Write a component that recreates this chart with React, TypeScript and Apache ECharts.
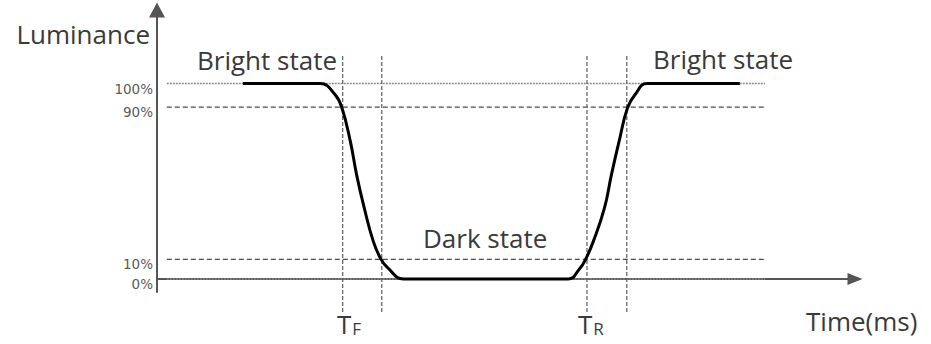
import React, { useEffect, useRef } from "react";
import * as echarts from "echarts";

// Luminance response curve (time in arbitrary units, luminance in %)
const curveTime = [12.3, 23.4, 25.5, 26.5, 27.7, 28.6, 29.7, 31.0, 32.1, 33.1, 35.3, 58.9, 60.6, 61.4, 62.5, 64.1, 65.1, 66.2, 67.4, 68.5, 70.2, 83.5];
const curveLum = [100, 100, 94.4, 87.5, 70.4, 53.3, 36.2, 19.1, 10, 5.5, 0, 0, 5.5, 10, 19.1, 36.2, 53.3, 70.4, 87.5, 94.4, 100, 100];

// Horizontal reference levels and their tick labels
const levelValues = [100, 88, 10, 0];
const levelLabels = ["100%", "90%", "10%", "0%"];
const levelDotted = [true, false, false, true];
const levelSpan = [1.4, 87.1];

// Vertical reference times
const guideTimes = [26.6, 32.2, 61.6, 67.3];
const guideSpan = [-16.9, 114.9];

const stateLabels = ["Bright state", "Dark state", "Bright state"];
const timeMarks = [
  ["T", "F"],
  ["T", "R"],
];
const axisNames = ["Time(ms)", "Luminance"];

const FONT = "'Open Sans', sans-serif";
const TEXT = "#3a3a3a";

export default function App() {
  const ref = useRef<HTMLDivElement>(null);
  useEffect(() => {
    document.body.style.margin = "0";
    const chart = echarts.init(ref.current!, undefined, { renderer: "svg" });
    const series: any[] = [];
    levelValues.forEach((v, i) => {
      series.push({
        type: "line",
        data: [
          [levelSpan[0], v],
          [levelSpan[1], v],
        ],
        symbol: "none",
        silent: true,
        clip: false,
        z: 1,
        lineStyle: levelDotted[i]
          ? { color: "#8a8a8a", width: 1.5, type: [2, 1] }
          : { color: "#4a4a4a", width: 1.3, type: [5, 3] },
      });
    });
    guideTimes.forEach((t) => {
      series.push({
        type: "line",
        data: [
          [t, guideSpan[0]],
          [t, guideSpan[1]],
        ],
        symbol: "none",
        silent: true,
        clip: false,
        z: 1,
        lineStyle: { color: "#6a6a6a", width: 1.3, type: [4, 2] },
      });
    });
    series.push({
      type: "line",
      data: curveTime.map((t, i) => [t, curveLum[i]]),
      symbol: "none",
      smooth: 0.45,
      z: 5,
      lineStyle: { color: "#000", width: 3 },
    });

    const subText = (m: string[], x: number) => ({
      type: "text",
      x,
      y: 311,
      style: {
        text: `{t|${m[0]}}{s|${m[1]}}`,
        rich: {
          t: { fontSize: 26, lineHeight: 26, fontFamily: FONT, fill: TEXT, verticalAlign: "top" },
          s: { fontSize: 17, lineHeight: 17, fontFamily: FONT, fill: TEXT, verticalAlign: "bottom", padding: [14, 0, 0, 1] },
        },
      },
    });
    const plain = (text: string, x: number, y: number) => ({
      type: "text",
      x,
      y,
      style: { text, fontFamily: FONT, fontSize: 26, fill: TEXT, verticalAlign: "middle" },
    });

    chart.setOption({
      animation: false,
      grid: { left: 157, right: 76, top: 10, bottom: 52, outerBoundsMode: "none" },
      xAxis: {
        type: "value",
        min: 0,
        max: 100,
        axisLine: {
          show: true,
          symbol: ["none", "triangle"],
          symbolSize: [12, 15],
          lineStyle: { color: "#555", width: 2 },
        },
        axisTick: { show: false },
        axisLabel: { show: false },
        splitLine: { show: false },
      },
      yAxis: {
        type: "value",
        min: -6.7,
        max: 137.7,
        name: axisNames[1],
        nameLocation: "end",
        nameGap: -23.5,
        nameMoveOverlap: false,
        nameTextStyle: {
          fontFamily: FONT,
          fontSize: 26,
          color: TEXT,
          align: "right",
          verticalAlign: "middle",
          padding: [0, 7, 0, 0],
        },
        axisLine: {
          show: true,
          symbol: ["none", "triangle"],
          symbolSize: [16, 15],
          lineStyle: { color: "#555", width: 2 },
        },
        axisTick: { show: false },
        splitLine: { show: false },
        axisLabel: {
          customValues: levelValues,
          margin: 4,
          fontFamily: "'DejaVu Sans', sans-serif",
          fontSize: 13.5,
          color: "#5a5a5a",
          verticalAlign: "top",
          lineHeight: 10,
          formatter: (v: number) => {
            const i = levelValues.indexOf(v);
            return i >= 0 ? levelLabels[i] : "";
          },
        },
      },
      graphic: [
        plain(stateLabels[0], 197, 60),
        plain(stateLabels[1], 423, 238),
        plain(stateLabels[2], 653, 59),
        plain(axisNames[0], 806, 321),
        subText(timeMarks[0], 337),
        subText(timeMarks[1], 578),
      ],
      series,
    });
    return () => chart.dispose();
  }, []);
  return <div ref={ref} style={{ position: "absolute", left: 0, top: 0, width: 931, height: 344 }} />;
}
